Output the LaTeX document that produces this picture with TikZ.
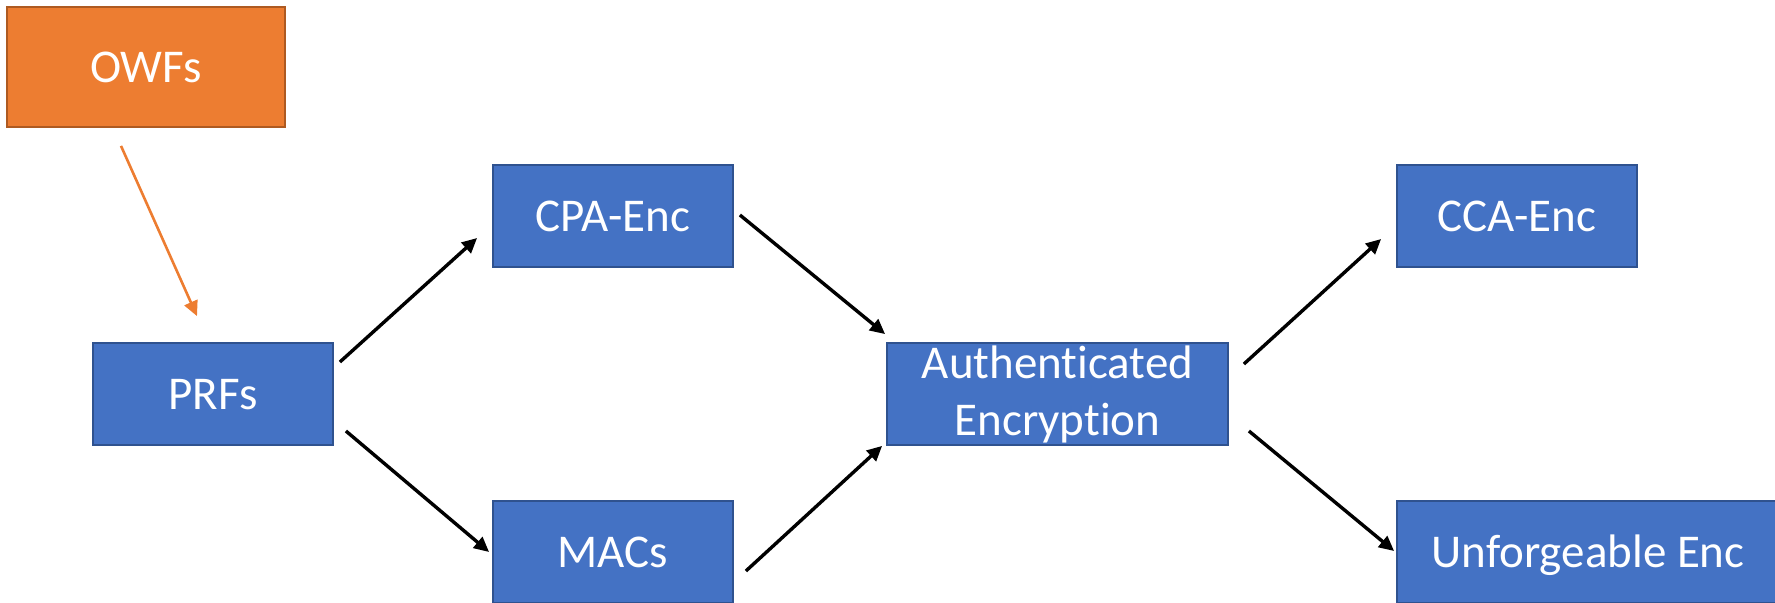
\documentclass[tikz,border=0pt]{standalone}
\usepackage{fontspec}
\setmainfont[RawFeature={-liga}]{Carlito}
\usetikzlibrary{arrows.meta,calc}
\definecolor{boxblue}{HTML}{4472C4}
\definecolor{boxblueedge}{HTML}{2F528F}
\definecolor{boxorange}{HTML}{ED7D31}
\definecolor{boxorangeedge}{HTML}{AE5A21}
\tikzset{
  box/.style={rectangle, fill=boxblue, draw=boxblueedge, line width=0.9pt,
    text=white, font=\fontsize{23.5}{28.5}\selectfont, inner sep=0pt,
    minimum height=51pt},
  capbox/.style={box, text height=15.1pt, text depth=0pt},
  orangebox/.style={capbox, fill=boxorange, draw=boxorangeedge},
  arr/.style={draw=black, line width=1.7pt, -{Triangle[length=7.5pt,width=7pt]}},
  orangearr/.style={draw=boxorange, line width=1.3pt, -{Triangle[length=7.5pt,width=7pt]}}
}
\begin{document}
\begin{tikzpicture}[x=0.5pt,y=-0.5pt]
\useasboundingbox (0,0) rectangle (1775,603);
\begin{scope}
\clip (0,0) rectangle (1775,603);
% boxes
\node[orangebox, minimum width=139pt, minimum height=60pt] (OWFs) at (146,67) {OWFs};
\node[capbox, minimum width=120pt] (PRFs) at (213,394) {PRFs};
\node[capbox, minimum width=120pt] (CPA) at (613,216) {CPA-Enc};
\node[capbox, minimum width=120pt] (MACs) at (613,552) {MACs};
\node[box, minimum width=170.5pt, align=center] (AE) at (1057.5,394) {Authenticated\\Encryption};
\node[capbox, minimum width=120pt] (CCA) at (1517,216) {CCA-Enc};
\node[capbox, minimum width=191pt] (UE) at (1588,552) {Unforgeable Enc};
% connectors
\draw[orangearr] ($(OWFs.south)+(-25,18)$) -- ($(PRFs.north)+(-16,-26)$);
\draw[arr] ($(PRFs.east)+(6,-32)$) -- ($(CPA.west)+(-15,22)$);
\draw[arr] ($(PRFs.east)+(12,37)$) -- ($(MACs.west)+(-3,0)$);
\draw[arr] ($(CPA.east)+(6,-1)$) -- ($(AE.north west)+(-1,-8)$);
\draw[arr] ($(MACs.east)+(12,19)$) -- ($(AE.south west)+(-4,0)$);
\draw[arr] ($(AE.east)+(15,-30)$) -- ($(CCA.west)+(-15,23)$);
\draw[arr] ($(AE.east)+(20,37)$) -- ($(UE.west)+(-2,-1)$);
\end{scope}
\end{tikzpicture}
\end{document}
